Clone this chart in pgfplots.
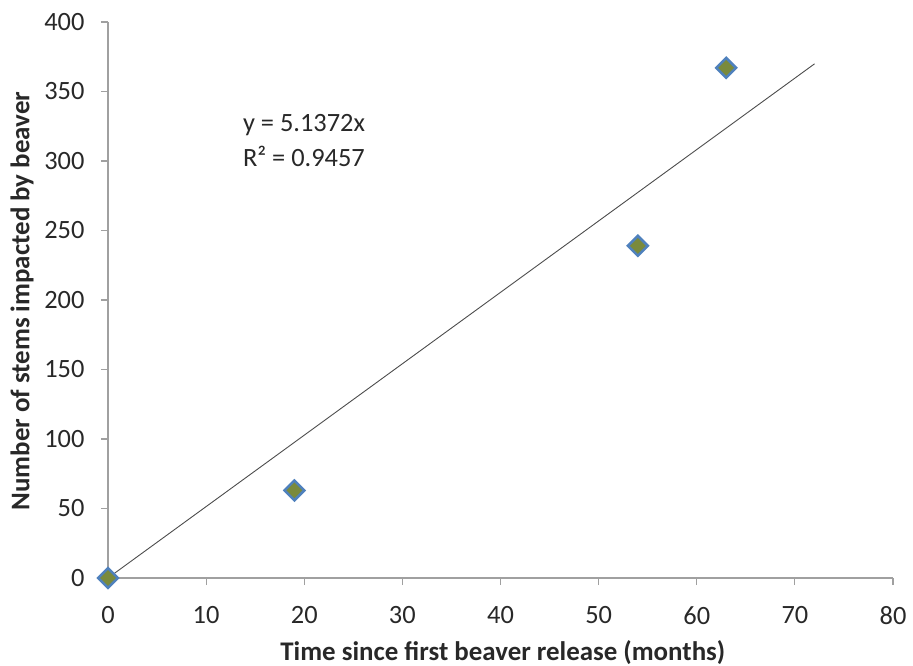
\documentclass[border=0pt]{standalone}
\usepackage{pgfplots}
\pgfplotsset{compat=1.18}
\usepackage{fontspec}
\setmainfont{Carlito}
\definecolor{axgray}{RGB}{160,160,160}
\definecolor{mkfill}{RGB}{122,138,60}
\definecolor{mkedge}{RGB}{79,129,189}
\definecolor{txt}{RGB}{40,40,40}
\begin{document}
\begin{tikzpicture}[x=1bp,y=1bp]
\path[use as bounding box] (-108,-88) rectangle (805,578);
\begin{axis}[
  at={(0,0)}, anchor=origin,
  scale only axis, width=785bp, height=556bp,
  xmin=0, xmax=80, ymin=0, ymax=400,
  xtick={0,10,...,80}, ytick={0,50,...,400},
  axis x line*=bottom, axis y line*=left,
  axis line style={axgray, line width=1.2pt, -},
  tick style={axgray, line width=1.2pt},
  tick align=outside, major tick length=7bp,
  every tick label/.append style={font=\fontsize{26.5}{30}\selectfont, text=txt},
  /pgf/number format/assume math mode=true,
  xticklabel style={yshift=-18bp},
  yticklabel style={xshift=-13bp},
  clip=false,
  xlabel={\bfseries Time since first beaver release (months)},
  ylabel={\bfseries Number of stems impacted by beaver},
  label style={font=\fontsize{27}{31}\selectfont, text=txt},
  xlabel style={at={(axis description cs:0.503,0)}, anchor=center, yshift=-75bp},
  ylabel style={at={(axis description cs:-0.1096,0.498)}, anchor=center},
]
\addplot[no marks, color=black!70, line width=0.9pt] coordinates {(0,0) (72,369.88)};
\addplot[only marks, mark=square*, mark size=7bp, mark options={rotate=45, fill=mkfill, draw=mkedge, line width=2.5bp}]
  coordinates {(0,0) (19,63) (54,239) (63,367)};
\node[anchor=west, font=\fontsize{26.5}{30}\selectfont, text=txt] at (axis cs:13.4,326) {y = 5.1372x};
\node[anchor=west, font=\fontsize{26.5}{30}\selectfont, text=txt] at (axis cs:13.4,303) {R² = 0.9457};
\end{axis}
\end{tikzpicture}
\end{document}
